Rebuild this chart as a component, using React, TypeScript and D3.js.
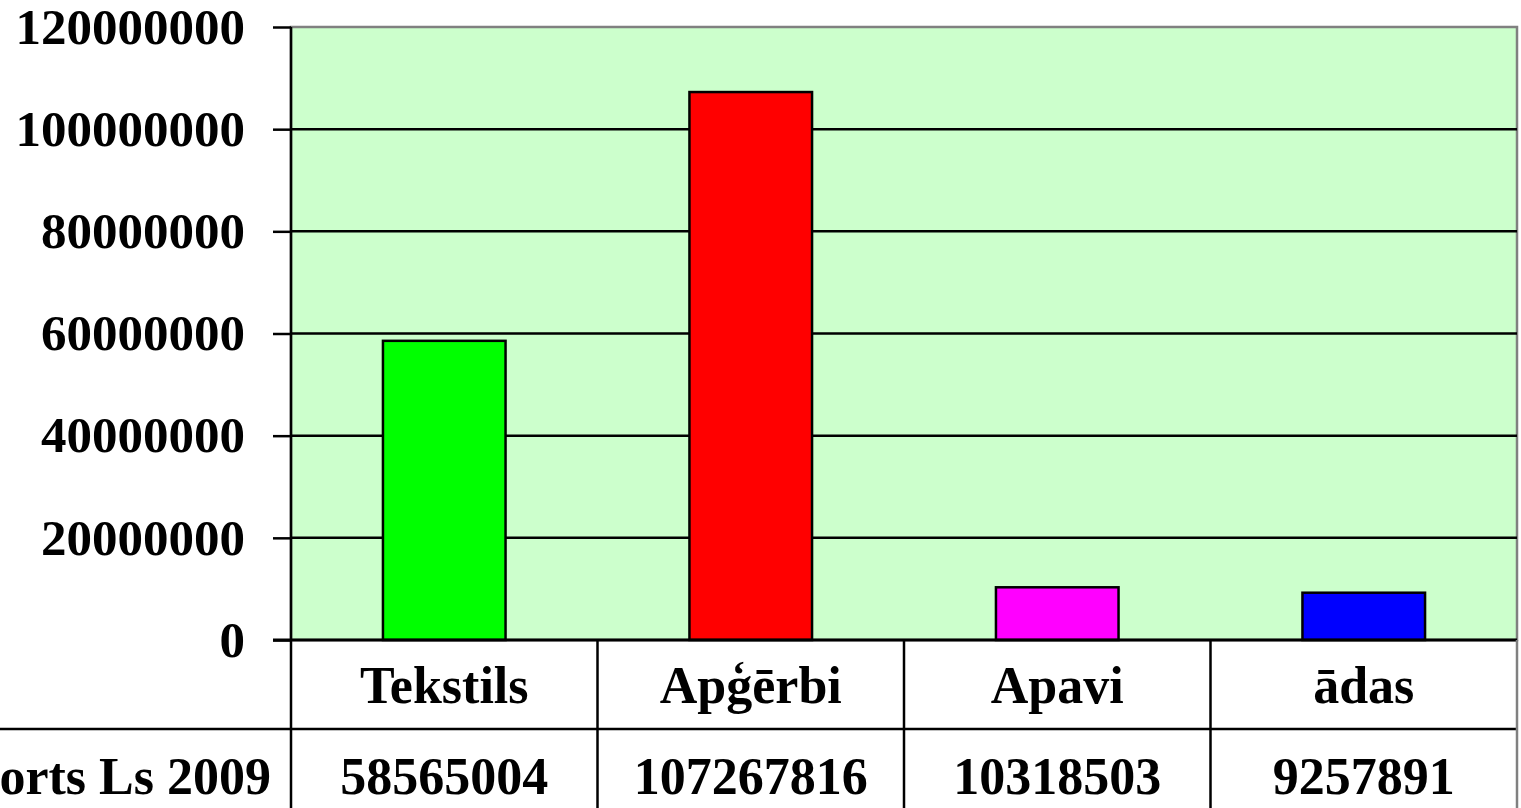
import { useRef, useEffect } from 'react';
import * as d3 from 'd3';

const categories = ['Tekstils', 'Apģērbi', 'Apavi', 'ādas'];
const values = [58565004, 107267816, 10318503, 9257891];
const barColors = ['#00ff00', '#ff0000', '#ff00ff', '#0000ff'];
const yTicks = [0, 20000000, 40000000, 60000000, 80000000, 100000000, 120000000];
const rowLabel = 'Eksports Ls 2009';

const W = 1521;
const H = 808;
const FONT = '"Liberation Serif", "Times New Roman", serif';

function App() {
  const svgRef = useRef(null);

  useEffect(() => {
    const svg = d3.select(svgRef.current);
    svg.selectAll('*').remove();

    const margin = { top: 27, right: 4, bottom: 168, left: 291 };
    const width = W - margin.left - margin.right;
    const height = H - margin.top - margin.bottom;
    const row1 = 89;

    const xScale = d3
      .scaleBand()
      .range([0, width])
      .domain(categories)
      .paddingInner(0.6)
      .paddingOuter(0.3);
    const step = xScale.step();

    const yScale = d3.scaleLinear().range([height, 0]).domain([0, 120000000]);

    const g = svg
      .append('g')
      .attr('transform', `translate(${margin.left}, ${margin.top})`);

    g.append('rect')
      .attr('width', width)
      .attr('height', height)
      .attr('fill', '#ccffcc')
      .attr('stroke', '#808080')
      .attr('stroke-width', 2.5);

    // grid
    g.selectAll('line.grid')
      .data(yTicks.filter((t) => t > 0 && t < 120000000))
      .enter()
      .append('line')
      .attr('x1', 0)
      .attr('x2', width)
      .attr('y1', (d) => yScale(d))
      .attr('y2', (d) => yScale(d))
      .attr('stroke', '#000')
      .attr('stroke-width', 2.5);

    // bars
    g.selectAll('rect.bar')
      .data(values)
      .enter()
      .append('rect')
      .attr('x', (d, i) => xScale(categories[i]))
      .attr('y', (d) => yScale(d))
      .attr('width', xScale.bandwidth())
      .attr('height', (d) => height - yScale(d))
      .attr('fill', (d, i) => barColors[i])
      .attr('stroke', '#000')
      .attr('stroke-width', 2.5);

    // y axis
    const yAxis = d3
      .axisLeft(yScale)
      .tickValues(yTicks)
      .tickSize(18)
      .tickPadding(28)
      .tickFormat((d) => String(d));

    const ax = g.append('g').call(yAxis);
    ax.select('.domain').remove();
    ax.selectAll('line').attr('stroke', '#000').attr('stroke-width', 2.5);
    ax.selectAll('text')
      .attr('font-family', FONT)
      .attr('font-weight', 'bold')
      .attr('font-size', 51)
      .attr('fill', '#000');

    g.append('line')
      .attr('x1', 0)
      .attr('x2', 0)
      .attr('y1', 0)
      .attr('y2', H - margin.top)
      .attr('stroke', '#000')
      .attr('stroke-width', 2.5);

    // data table
    g.append('line')
      .attr('x1', -margin.left)
      .attr('x2', width)
      .attr('y1', height + row1)
      .attr('y2', height + row1)
      .attr('stroke', '#000')
      .attr('stroke-width', 2.5);

    g.append('line')
      .attr('x1', -18)
      .attr('x2', width)
      .attr('y1', height)
      .attr('y2', height)
      .attr('stroke', '#000')
      .attr('stroke-width', 3);

    g.selectAll('line.col')
      .data(categories)
      .enter()
      .append('line')
      .attr('x1', (d) => xScale(d) + xScale.bandwidth() / 2 + step / 2)
      .attr('x2', (d) => xScale(d) + xScale.bandwidth() / 2 + step / 2)
      .attr('y1', height)
      .attr('y2', H - margin.top)
      .attr('stroke', (d, i) => (i === categories.length - 1 ? '#808080' : '#000'))
      .attr('stroke-width', 2.5);

    const cx = (d) => xScale(d) + xScale.bandwidth() / 2;

    g.selectAll('text.cat')
      .data(categories)
      .enter()
      .append('text')
      .attr('x', cx)
      .attr('y', height + 63)
      .attr('text-anchor', 'middle')
      .attr('font-family', FONT)
      .attr('font-weight', 'bold')
      .attr('font-size', 52)
      .text((d) => d);

    g.selectAll('text.val')
      .data(values)
      .enter()
      .append('text')
      .attr('x', (d, i) => cx(categories[i]))
      .attr('y', height + 154)
      .attr('text-anchor', 'middle')
      .attr('font-family', FONT)
      .attr('font-weight', 'bold')
      .attr('font-size', 52)
      .text((d) => String(d));

    g.append('text')
      .attr('x', -20)
      .attr('y', height + 154)
      .attr('text-anchor', 'end')
      .attr('font-family', FONT)
      .attr('font-weight', 'bold')
      .attr('font-size', 52)
      .text(rowLabel);

    return () => {
      svg.selectAll('*').remove();
    };
  }, []);

  return (
    <svg
      ref={svgRef}
      width={W}
      height={H}
      style={{ position: 'absolute', left: 0, top: 0, display: 'block', background: '#fff' }}
    />
  );
}

export default App;
